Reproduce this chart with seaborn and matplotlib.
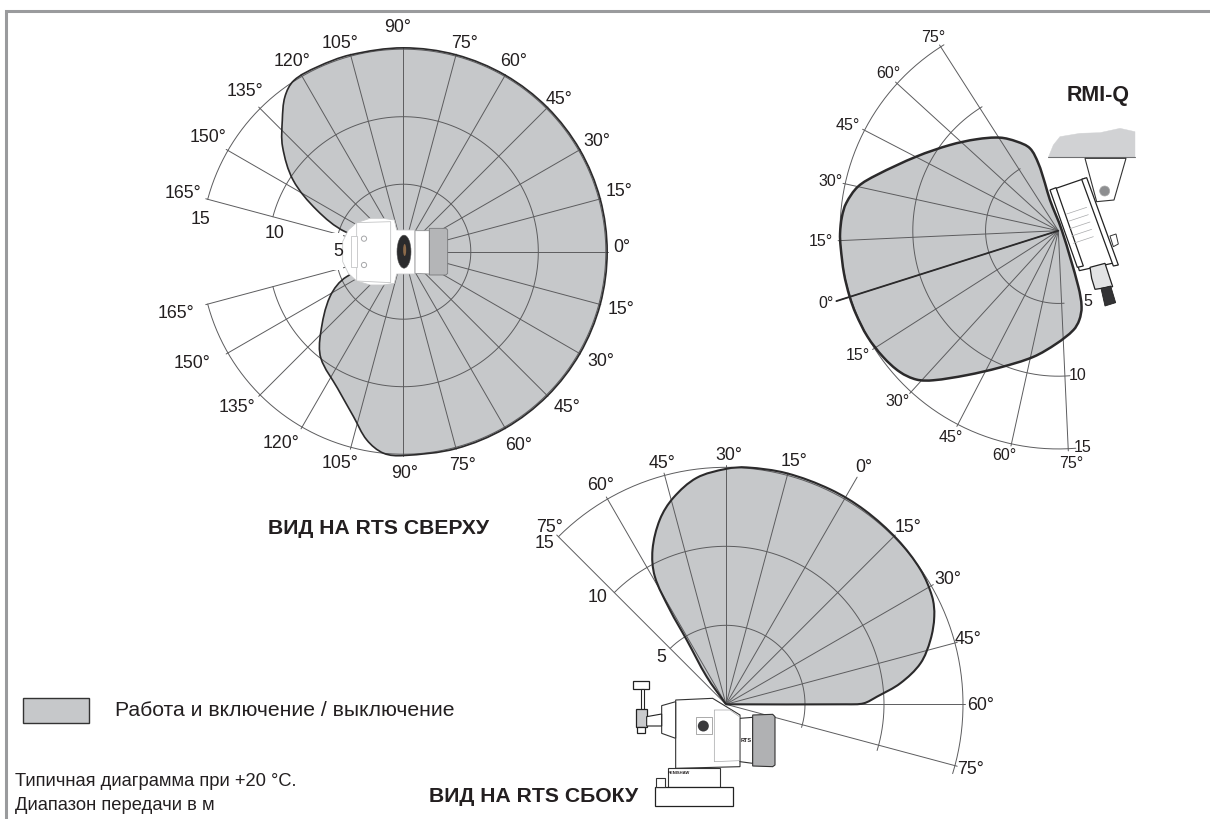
import numpy as np
import pandas as pd
import matplotlib
matplotlib.use("Agg")
import matplotlib.pyplot as plt
import seaborn as sns
from matplotlib.patches import Polygon, Ellipse, Circle, Rectangle, PathPatch
from matplotlib.path import Path
from matplotlib.transforms import IdentityTransform

W, H = 1210, 819

# vista superior: angulo (grados) y alcance (m)
top_angle = [0, 15, 30, 45, 60, 75, 90, 105, 115,
             122.6, 127.4, 132.6, 139, 147, 154.3, 161, 161,
             -156.2, -156.2, -148.5, -135.3, -127.7, -115.7, -106.8, -101, -95.6, -90,
             -75, -60, -45, -30, -15]
top_range = [15.1, 15.1, 15.1, 15.1, 15.1, 15.1, 15.1, 15.1, 15.1,
             15.05, 14.44, 13.24, 11.85, 9.73, 7.11, 4.57, 0,
             0, 4.59, 6.37, 8.62, 9.98, 11.23, 12.76, 14.2, 15.0, 15.1,
             15.1, 15.1, 15.1, 15.1, 15.1]

# RMI-Q
rmi_angle = [0, 6.3, 13.4, 16.9, 21.3, 25, 30, 34.6, 45.2, 55.9, 65.8, 75.5, 82.6, 88.6, 91.1, 91.9, 92.4, 197.6,
             267.9, 270.6, 274.4, 279, 288.4, 298.8, 310.7, 320, 327.5, 331.2, 335.9, 341.8, 348.6, 355.3]
rmi_range = [15.04, 15.02, 15.0, 15.0, 14.9, 14.7, 14.1, 13.07, 11.0, 9.5, 8.43, 7.55, 6.76, 5.99, 4.83, 3.38, 2.19, 0.25,
             4.09, 5.47, 6.31, 6.91, 7.75, 8.84, 10.22, 11.76, 13.4, 14.13, 14.59, 14.84, 15.0, 15.04]

# vista lateral
side_angle = [60, 60, 59.6, 57.1, 53.1, 48.1, 42.5, 37.1, 32.4, 25.3, 16.1, 5.5, -4.1, -15.3, -25, -30,
              -37.4, -44.3, -49.7, -55.4, -59.1, -60.7, -61.4, -65, -65]
side_range = [0, 7.65, 8.71, 9.57, 11.12, 12.58, 13.57, 14.31, 14.72, 14.97, 15.05, 15.1, 15.12, 15.12, 15.05, 14.9,
              14.45, 13.49, 12.42, 10.84, 9.27, 6.96, 4.78, 2.14, 0]

ring_values = [5, 10, 15]
top_spokes = np.arange(-165, 166, 15)
rmi_spokes = np.arange(-75, 76, 15)
side_spokes = np.arange(-75, 76, 15)

top_labels = ["90°", "105°", "120°", "135°", "150°", "165°", "15", "10", "5", "75°", "60°", "45°", "30°", "15°", "0°",
              "15°", "30°", "45°", "60°", "75°", "90°", "105°", "120°", "135°", "150°", "165°"]
top_label_xy = [(398, 28), (340, 43), (292, 62), (245, 92), (208, 138), (183, 194), (201, 220), (275, 233), (338, 251),
                (465, 43), (514, 61), (559, 99), (597, 141), (619, 191), (622, 247),
                (621, 309), (601, 362), (567, 408), (519, 445), (463, 466), (405, 473), (340, 463), (281, 443), (237, 408), (192, 364), (176, 313)]
rmi_labels = ["75°", "60°", "45°", "30°", "15°", "0°", "15°", "30°", "45°", "60°", "75°", "15", "10", "5"]
rmi_label_xy = [(933, 38), (888, 74), (848, 126), (831, 181), (821, 241), (826, 304), (858, 356), (898, 401), (951, 437),
                (1004, 455), (1071, 463), (1083, 447), (1078, 376), (1088, 302)]
side_labels = ["75°", "15", "60°", "45°", "30°", "15°", "0°", "15°", "30°", "45°", "60°", "75°", "10", "5"]
side_label_xy = [(550, 527), (544, 543), (601, 486), (662, 463), (729, 456), (794, 462), (864, 468), (908, 527), (948, 579),
                 (968, 639), (981, 706), (971, 769), (598, 597), (661, 657)]

FILL = "#c6c8ca"
DARK = "#2b2a2b"
GRID = "#5c5c5e"
TXT = "#231f20"

sns.set_theme(style="white")
plt.rcParams["font.family"] = ["Liberation Sans", "DejaVu Sans"]

fig = plt.figure(figsize=(W / 100, H / 100), dpi=100, facecolor="white")


def smooth_path(pts):
    # curva cerrada que pasa por los puntos leidos
    n = len(pts)
    verts = [pts[0]]
    codes = [Path.MOVETO]
    dirs = []
    for i in range(n):
        d = pts[(i + 1) % n] - pts[i - 1]
        dirs.append(d / max(np.hypot(*d), 1e-6))
    for i in range(n):
        j = (i + 1) % n
        seg = np.hypot(*(pts[j] - pts[i])) / 3
        verts += [pts[i] + dirs[i] * seg, pts[j] - dirs[j] * seg, pts[j]]
        codes += [Path.CURVE4] * 3
    return Path(np.array(verts), codes)


def polar_panel(cx, cy, scale, offset, direction, angle, rng, spokes, ring_from, ring_to, spoke_len, lw):
    rmax = 17.5
    half = rmax * scale
    ax = fig.add_axes([(cx - half) / W, 1 - (cy + half) / H, 2 * half / W, 2 * half / H], projection="polar")
    ax.set_theta_offset(np.radians(offset))
    ax.set_theta_direction(direction)
    ax.set_rlim(0, rmax)

    rows = []
    ring_deg = np.arange(ring_from, ring_to + 0.5, 1.0)
    for r in ring_values:
        rows += [("ring%d" % r, np.radians(d), r) for d in ring_deg]
    for s in spokes:
        rows += [("spoke%d" % s, np.radians(s), 0), ("spoke%d" % s, np.radians(s), spoke_len.get(s, 15.15))]
    grid = pd.DataFrame(rows, columns=["id", "theta", "r"])
    sns.lineplot(data=grid, x="theta", y="r", units="id", estimator=None, sort=False,
                 color=GRID, linewidth=0.7, legend=False, ax=ax, zorder=2)

    ax.set_rlim(0, rmax)
    ax.set_xlabel("")
    ax.set_ylabel("")
    ax.axis("off")
    ax.patch.set_alpha(0)

    # contorno: angulo y alcance pasan por la escala polar del eje
    pts = ax.transData.transform(np.column_stack([np.radians(angle), rng]))
    path = smooth_path(pts)
    ax.add_artist(PathPatch(path, transform=IdentityTransform(), fc=FILL, ec="none", lw=0, zorder=1))
    ax.add_artist(PathPatch(path, transform=IdentityTransform(), fc="none", ec=DARK, lw=lw, zorder=3))
    return ax


polar_panel(403.3, 251.7, 13.5, 0, 1, top_angle, top_range, top_spokes, -165, 165, {}, 1.2)
rmi_ax = polar_panel(1058.3, 230.7, 14.55, 197.6, -1, rmi_angle, rmi_range, rmi_spokes, -77, 76, {0: 16.0}, 1.8)
rmi_ax.plot(np.radians([0, 0]), [0, 16.0], color=DARK, lw=1.3, zorder=2)
polar_panel(726, 704.3, 15.8, 60, -1, side_angle, side_range, side_spokes, -75, 77, {0: 16.6}, 1.5)

# capa con marco, textos y dibujos de los equipos
top = fig.add_axes([0, 0, 1, 1], zorder=10)
top.set_xlim(0, W)
top.set_ylim(H, 0)
top.axis("off")
top.patch.set_alpha(0)

# marco
top.plot([6, 6, 1210], [819, 10.5, 10.5], color="#9a9b9d", lw=2.2, solid_joinstyle="miter")


def shape(pts, origin, fc="white", ec="#444444", lw=0.7, z=5):
    xy = [(origin[0] + p[0] / 3, origin[1] + p[1] / 3) for p in pts]
    top.add_patch(Polygon(xy, closed=True, fc=fc, ec=ec, lw=lw, zorder=z))


# equipo vista superior
o = (150, 0)
shape([(578, 700), (578, 810), (530, 810), (530, 700)], o, ec="white", lw=0, z=4)
shape([(733, 660), (700, 655), (660, 655), (620, 668), (595, 690), (578, 725), (578, 785), (595, 820), (620, 843), (660, 855),
       (700, 855), (733, 850), (740, 822), (795, 822), (795, 690), (740, 690)], o, ec="#c9cacb", lw=0.6)
shape([(620, 668), (722, 665), (722, 848), (620, 843)], o, ec="#c4c5c6", lw=0.6)
shape([(602, 708), (620, 708), (620, 802), (602, 802)], o, ec="#c4c5c6", lw=0.6)
shape([(795, 692), (838, 692), (838, 822), (795, 820)], o, ec="#909193", lw=0.6)
shape([(838, 685), (888, 685), (893, 690), (893, 820), (888, 825), (838, 825)], o, fc="#b4b5b7", ec="#78797b", lw=0.6)
top.add_patch(Ellipse((150 + 762 / 3, 755 / 3), 14, 33, fc="#2a2a2c", ec="#555", lw=0.4, zorder=6))
top.add_patch(Ellipse((150 + 764 / 3, 750 / 3), 3, 12, fc="#8c6a4a", lw=0, zorder=7))
for yy in [716, 795]:
    top.add_patch(Circle((150 + 642 / 3, yy / 3), 2.6, fc="white", ec="#a5a6a8", lw=0.7, zorder=6))

# equipo RMI-Q
o = (800, 20)
shape([(745, 412), (760, 375), (780, 350), (840, 340), (900, 338), (960, 325), (1005, 335), (1005, 412)], o, fc="#d1d2d4", ec="#d1d2d4", lw=0.3)
top.plot([800 + 745 / 3, 800 + 1005 / 3], [20 + 412 / 3, 20 + 412 / 3], color="#6f7072", lw=0.8, zorder=5)
shape([(855, 415), (978, 415), (942, 540), (890, 545)], o, ec="#333", lw=0.8)
shape([(768, 505), (855, 475), (945, 728), (838, 752)], o, ec="#222", lw=0.9)
shape([(750, 510), (768, 503), (850, 738), (832, 742)], o, ec="#222", lw=0.9)
shape([(845, 478), (860, 473), (955, 735), (940, 738)], o, ec="#222", lw=0.9)
shape([(930, 648), (948, 642), (955, 672), (940, 680)], o, ec="#333", lw=0.7)
shape([(870, 742), (915, 730), (928, 770), (938, 800), (885, 808), (875, 775)], o, fc="#e2e3e4", ec="#222", lw=0.9)
shape([(903, 805), (932, 798), (947, 848), (915, 858)], o, fc="#333335", ec="#222", lw=0.6)
top.add_patch(Circle((800 + 914 / 3, 20 + 513 / 3), 5, fc="#8d8e90", ec="#aaa", lw=0.5, zorder=6))
for k in range(5):
    top.plot([800 + (800 + 5 * k) / 3, 800 + (860 + 5 * k) / 3], [20 + (582 + 22 * k) / 3, 20 + (562 + 22 * k) / 3],
             color="#a8a9ab", lw=0.5, zorder=6)

# equipo vista lateral
o = (530, 440)
shape([(437, 780), (548, 775), (630, 825), (630, 980), (437, 985)], o, ec="#333", lw=0.8)
shape([(395, 797), (437, 785), (437, 895), (395, 880)], o, ec="#333", lw=0.8)
shape([(630, 835), (668, 832), (668, 970), (630, 965)], o, ec="#333", lw=0.8)
shape([(668, 825), (728, 823), (735, 830), (735, 975), (728, 980), (668, 978)], o, fc="#b0b1b3", ec="#333", lw=0.8)
shape([(415, 985), (570, 985), (570, 1042), (415, 1042)], o, ec="#333", lw=0.8)
shape([(375, 1042), (608, 1042), (608, 1097), (375, 1097)], o, ec="#222", lw=0.9)
shape([(377, 1015), (405, 1015), (405, 1042), (377, 1042)], o, ec="#333", lw=0.8)
shape([(310, 722), (358, 722), (358, 748), (310, 748)], o, ec="#222", lw=0.9)
shape([(332, 748), (341, 748), (341, 810), (332, 810)], o, ec="#222", lw=0.8)
shape([(318, 808), (350, 808), (350, 862), (318, 862)], o, fc="#c9cacc", ec="#222", lw=0.9)
shape([(320, 862), (345, 862), (345, 880), (320, 880)], o, ec="#222", lw=0.9)
shape([(350, 830), (395, 822), (395, 858), (350, 858)], o, ec="#222", lw=0.8)
shape([(553, 810), (600, 810), (628, 830), (628, 962), (553, 965)], o, ec="#a5a6a8", lw=0.5)
shape([(498, 830), (545, 830), (545, 882), (498, 882)], o, ec="#888", lw=0.5)
top.add_patch(Circle((530 + 520 / 3, 440 + 858 / 3), 5.5, fc="#3a3a3c", ec="none", zorder=6))
top.text(530 + 648 / 3, 440 + 903 / 3, "RTS", fontsize=4, fontweight="bold", color=TXT, ha="center", va="center", zorder=7)
top.text(530 + 447 / 3, 440 + 1000 / 3, "RENISHAW", fontsize=3, fontweight="bold", color=TXT, ha="center", va="center", zorder=7)

# etiquetas
for s, (x, y) in zip(top_labels, top_label_xy):
    top.text(x, y, s, fontsize=12.8, color=TXT, ha="center", va="center", zorder=8)
for s, (x, y) in zip(rmi_labels, rmi_label_xy):
    top.text(x, y, s, fontsize=11.5, color=TXT, ha="center", va="center", zorder=8)
for s, (x, y) in zip(side_labels, side_label_xy):
    top.text(x, y, s, fontsize=12.8, color=TXT, ha="center", va="center", zorder=8)

top.text(1098, 96, "RMI-Q", fontsize=15.5, fontweight="bold", color=TXT, ha="center", va="center")
top.text(268, 529, "ВИД НА RTS СВЕРХУ", fontsize=15.2, fontweight="bold", color=TXT, ha="left", va="center")
top.text(429, 797, "ВИД НА RTS СБОКУ", fontsize=15.2, fontweight="bold", color=TXT, ha="left", va="center")

# leyenda
top.add_patch(Rectangle((23, 698), 65.5, 24.5, fc=FILL, ec="#333", lw=1.0))
top.text(115, 710, "Работа и включение / выключение", fontsize=15.2, color=TXT, ha="left", va="center")
top.text(15, 782, "Типичная диаграмма при +20 °C.", fontsize=13.2, color=TXT, ha="left", va="center")
top.text(15, 806, "Диапазон передачи в м", fontsize=13.2, color=TXT, ha="left", va="center")

fig.savefig("out.png", dpi=100)
